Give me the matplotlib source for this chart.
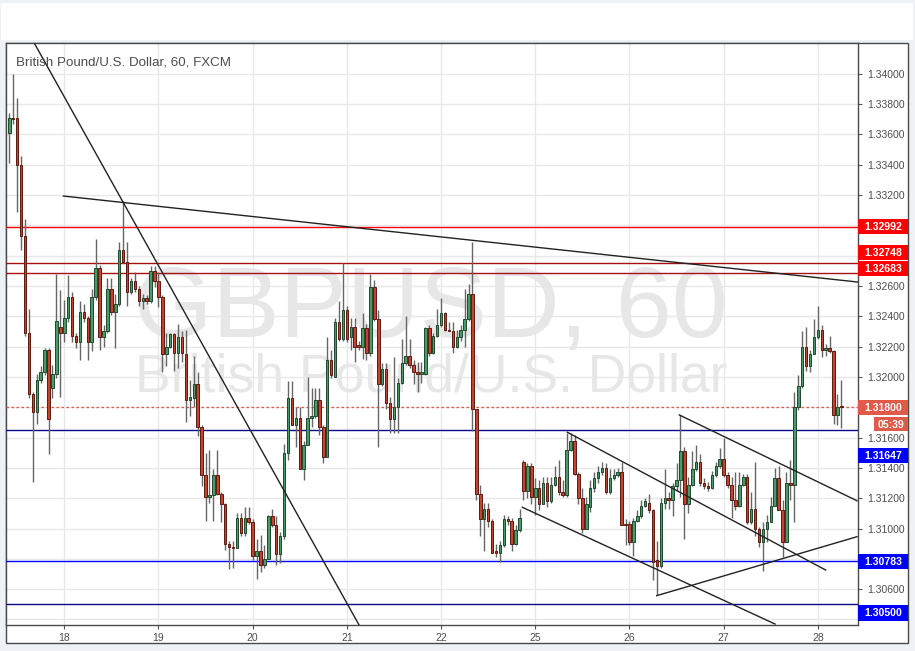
import matplotlib
matplotlib.use("Agg")
import matplotlib.pyplot as plt
from matplotlib.patches import Rectangle
import numpy as np

plt.rcParams['font.family'] = ['Liberation Sans', 'DejaVu Sans']

# GBP/USD hourly candles (FXCM), 17th 10:00 -> 28th 06:00
opens = [
  1.3361, 1.3371, 1.3371, 1.3340, 1.3293, 1.3229, 1.3189, 1.3177, 1.3198, 1.3203,
  1.3218, 1.3193, 1.3202, 1.3233, 1.3229, 1.3239, 1.3253, 1.3227, 1.3223, 1.3243,
  1.3239, 1.3223, 1.3253, 1.3272, 1.3226, 1.3230, 1.3258, 1.3243, 1.3248, 1.3284,
  1.3276, 1.3256, 1.3263, 1.3258, 1.3250, 1.3252, 1.3250, 1.3270, 1.3263, 1.3253,
  1.3215, 1.3220, 1.3228, 1.3216, 1.3226, 1.3215, 1.3185, 1.3186, 1.3195, 1.3167,
  1.3135, 1.3121, 1.3122, 1.3135, 1.3123, 1.3116, 1.3090, 1.3088, 1.3087, 1.3107,
  1.3097, 1.3107, 1.3104, 1.3082, 1.3085, 1.3076, 1.3080, 1.3108, 1.3102, 1.3083,
  1.3095, 1.3150, 1.3186, 1.3168, 1.3173, 1.3139, 1.3155, 1.3173, 1.3174, 1.3185,
  1.3167, 1.3147, 1.3211, 1.3200, 1.3236, 1.3225, 1.3244, 1.3226, 1.3233, 1.3221,
  1.3220, 1.3232, 1.3216, 1.3259, 1.3238, 1.3195, 1.3205, 1.3183, 1.3172, 1.3180,
  1.3196, 1.3209, 1.3214, 1.3208, 1.3203, 1.3202, 1.3202, 1.3232, 1.3216, 1.3227,
  1.3234, 1.3242, 1.3231, 1.3230, 1.3220, 1.3226, 1.3231, 1.3238, 1.3255, 1.3179,
  1.3123, 1.3106, 1.3113, 1.3105, 1.3085, 1.3084, 1.3089, 1.3106, 1.3105, 1.3090,
  1.3099, 1.3144, 1.3125, 1.3141, 1.3121, 1.3127, 1.3116, 1.3130, 1.3118, 1.3129,
  1.3134, 1.3124, 1.3122, 1.3152, 1.3158, 1.3136, 1.3120, 1.3100, 1.3114, 1.3127,
  1.3133, 1.3137, 1.3140, 1.3124, 1.3133, 1.3135, 1.3137, 1.3103, 1.3103, 1.3091,
  1.3105, 1.3108, 1.3115, 1.3117, 1.3112, 1.3079, 1.3075, 1.3117, 1.3120, 1.3119,
  1.3128, 1.3132, 1.3151, 1.3116, 1.3129, 1.3139, 1.3144, 1.3130, 1.3128, 1.3127,
  1.3135, 1.3141, 1.3146, 1.3135, 1.3129, 1.3119, 1.3115, 1.3129, 1.3134, 1.3104,
  1.3113, 1.3100, 1.3091, 1.3100, 1.3104, 1.3115, 1.3133, 1.3112, 1.3091, 1.3130,
  1.3129, 1.3180, 1.3194, 1.3220, 1.3207, 1.3215, 1.3226, 1.3231, 1.3218, 1.3219,
  1.3217, 1.3175, 1.3181]

highs = [
  1.3374, 1.3400, 1.3384, 1.3346, 1.3304, 1.3245, 1.3190, 1.3202, 1.3207, 1.3219,
  1.3219, 1.3208, 1.3268, 1.3257, 1.3251, 1.3267, 1.3256, 1.3229, 1.3250, 1.3248,
  1.3240, 1.3258, 1.3291, 1.3274, 1.3234, 1.3265, 1.3265, 1.3255, 1.3289, 1.3316,
  1.3289, 1.3265, 1.3269, 1.3260, 1.3255, 1.3254, 1.3273, 1.3273, 1.3269, 1.3254,
  1.3229, 1.3229, 1.3229, 1.3235, 1.3230, 1.3231, 1.3198, 1.3214, 1.3203, 1.3168,
  1.3150, 1.3152, 1.3139, 1.3152, 1.3124, 1.3117, 1.3092, 1.3092, 1.3110, 1.3110,
  1.3114, 1.3114, 1.3106, 1.3093, 1.3096, 1.3089, 1.3109, 1.3113, 1.3108, 1.3098,
  1.3156, 1.3197, 1.3197, 1.3180, 1.3180, 1.3158, 1.3200, 1.3193, 1.3193, 1.3193,
  1.3168, 1.3226, 1.3218, 1.3239, 1.3250, 1.3275, 1.3247, 1.3239, 1.3239, 1.3224,
  1.3242, 1.3235, 1.3268, 1.3264, 1.3244, 1.3209, 1.3209, 1.3187, 1.3213, 1.3199,
  1.3225, 1.3240, 1.3225, 1.3211, 1.3210, 1.3210, 1.3233, 1.3234, 1.3229, 1.3245,
  1.3252, 1.3243, 1.3236, 1.3236, 1.3231, 1.3234, 1.3258, 1.3261, 1.3289, 1.3179,
  1.3129, 1.3117, 1.3117, 1.3106, 1.3090, 1.3092, 1.3109, 1.3108, 1.3107, 1.3102,
  1.3113, 1.3145, 1.3143, 1.3143, 1.3133, 1.3132, 1.3134, 1.3134, 1.3134, 1.3141,
  1.3145, 1.3132, 1.3163, 1.3163, 1.3162, 1.3137, 1.3127, 1.3121, 1.3132, 1.3137,
  1.3141, 1.3144, 1.3143, 1.3139, 1.3139, 1.3140, 1.3144, 1.3106, 1.3105, 1.3107,
  1.3112, 1.3119, 1.3120, 1.3123, 1.3113, 1.3092, 1.3120, 1.3139, 1.3124, 1.3130,
  1.3143, 1.3175, 1.3154, 1.3134, 1.3151, 1.3155, 1.3149, 1.3133, 1.3131, 1.3138,
  1.3144, 1.3153, 1.3160, 1.3137, 1.3134, 1.3137, 1.3137, 1.3136, 1.3136, 1.3124,
  1.3144, 1.3101, 1.3104, 1.3109, 1.3121, 1.3140, 1.3141, 1.3119, 1.3137, 1.3145,
  1.3190, 1.3201, 1.3230, 1.3233, 1.3218, 1.3238, 1.3247, 1.3234, 1.3222, 1.3227,
  1.3218, 1.3189, 1.3198]

lows = [
  1.3341, 1.3367, 1.3309, 1.3284, 1.3227, 1.3186, 1.3131, 1.3169, 1.3196, 1.3201,
  1.3149, 1.3186, 1.3199, 1.3187, 1.3223, 1.3236, 1.3223, 1.3219, 1.3211, 1.3236,
  1.3211, 1.3217, 1.3251, 1.3218, 1.3220, 1.3229, 1.3241, 1.3219, 1.3247, 1.3275,
  1.3247, 1.3255, 1.3256, 1.3247, 1.3245, 1.3248, 1.3249, 1.3259, 1.3246, 1.3203,
  1.3207, 1.3219, 1.3204, 1.3206, 1.3210, 1.3170, 1.3174, 1.3180, 1.3161, 1.3128,
  1.3105, 1.3117, 1.3105, 1.3122, 1.3104, 1.3086, 1.3073, 1.3074, 1.3087, 1.3095,
  1.3095, 1.3103, 1.3079, 1.3067, 1.3071, 1.3074, 1.3080, 1.3101, 1.3076, 1.3077,
  1.3093, 1.3145, 1.3168, 1.3154, 1.3139, 1.3132, 1.3155, 1.3167, 1.3173, 1.3162,
  1.3143, 1.3147, 1.3199, 1.3200, 1.3224, 1.3224, 1.3223, 1.3218, 1.3210, 1.3218,
  1.3212, 1.3211, 1.3214, 1.3237, 1.3154, 1.3194, 1.3179, 1.3163, 1.3163, 1.3163,
  1.3195, 1.3208, 1.3206, 1.3195, 1.3190, 1.3196, 1.3201, 1.3214, 1.3215, 1.3226,
  1.3233, 1.3230, 1.3230, 1.3216, 1.3219, 1.3224, 1.3220, 1.3237, 1.3164, 1.3119,
  1.3095, 1.3085, 1.3101, 1.3084, 1.3081, 1.3078, 1.3088, 1.3102, 1.3085, 1.3089,
  1.3098, 1.3119, 1.3120, 1.3116, 1.3109, 1.3112, 1.3116, 1.3114, 1.3117, 1.3128,
  1.3122, 1.3121, 1.3121, 1.3151, 1.3135, 1.3116, 1.3097, 1.3100, 1.3111, 1.3124,
  1.3130, 1.3135, 1.3123, 1.3123, 1.3132, 1.3134, 1.3102, 1.3089, 1.3089, 1.3082,
  1.3104, 1.3107, 1.3114, 1.3110, 1.3066, 1.3056, 1.3074, 1.3113, 1.3113, 1.3108,
  1.3125, 1.3121, 1.3093, 1.3110, 1.3128, 1.3138, 1.3128, 1.3126, 1.3125, 1.3126,
  1.3134, 1.3140, 1.3134, 1.3127, 1.3107, 1.3112, 1.3114, 1.3128, 1.3103, 1.3103,
  1.3095, 1.3088, 1.3072, 1.3091, 1.3104, 1.3115, 1.3112, 1.3081, 1.3091, 1.3119,
  1.3104, 1.3178, 1.3193, 1.3204, 1.3203, 1.3215, 1.3225, 1.3213, 1.3214, 1.3216,
  1.3169, 1.3168, 1.3166]

closes = [
  1.3371, 1.3370, 1.3340, 1.3293, 1.3229, 1.3189, 1.3177, 1.3198, 1.3203, 1.3218,
  1.3172, 1.3202, 1.3237, 1.3229, 1.3239, 1.3253, 1.3227, 1.3223, 1.3243, 1.3239,
  1.3223, 1.3253, 1.3272, 1.3226, 1.3230, 1.3258, 1.3243, 1.3248, 1.3284, 1.3276,
  1.3256, 1.3263, 1.3258, 1.3250, 1.3252, 1.3250, 1.3270, 1.3263, 1.3253, 1.3215,
  1.3220, 1.3228, 1.3216, 1.3226, 1.3216, 1.3185, 1.3187, 1.3195, 1.3167, 1.3135,
  1.3121, 1.3122, 1.3135, 1.3123, 1.3116, 1.3090, 1.3088, 1.3087, 1.3107, 1.3097,
  1.3107, 1.3104, 1.3082, 1.3085, 1.3076, 1.3080, 1.3108, 1.3102, 1.3083, 1.3095,
  1.3150, 1.3186, 1.3168, 1.3173, 1.3139, 1.3155, 1.3173, 1.3174, 1.3185, 1.3167,
  1.3147, 1.3211, 1.3201, 1.3236, 1.3225, 1.3244, 1.3225, 1.3233, 1.3220, 1.3220,
  1.3232, 1.3216, 1.3259, 1.3238, 1.3195, 1.3205, 1.3183, 1.3172, 1.3180, 1.3196,
  1.3209, 1.3214, 1.3208, 1.3203, 1.3202, 1.3203, 1.3232, 1.3216, 1.3227, 1.3234,
  1.3242, 1.3231, 1.3230, 1.3220, 1.3226, 1.3231, 1.3238, 1.3255, 1.3179, 1.3123,
  1.3106, 1.3113, 1.3105, 1.3084, 1.3084, 1.3089, 1.3106, 1.3105, 1.3090, 1.3099,
  1.3107, 1.3125, 1.3141, 1.3121, 1.3127, 1.3116, 1.3130, 1.3118, 1.3129, 1.3134,
  1.3124, 1.3122, 1.3152, 1.3158, 1.3136, 1.3120, 1.3100, 1.3116, 1.3127, 1.3133,
  1.3137, 1.3140, 1.3124, 1.3133, 1.3135, 1.3137, 1.3102, 1.3102, 1.3091, 1.3105,
  1.3108, 1.3115, 1.3118, 1.3112, 1.3078, 1.3075, 1.3117, 1.3120, 1.3119, 1.3128,
  1.3132, 1.3151, 1.3116, 1.3129, 1.3139, 1.3144, 1.3130, 1.3128, 1.3127, 1.3135,
  1.3141, 1.3146, 1.3135, 1.3129, 1.3119, 1.3115, 1.3129, 1.3134, 1.3104, 1.3113,
  1.3100, 1.3091, 1.3100, 1.3104, 1.3115, 1.3133, 1.3112, 1.3091, 1.3130, 1.3129,
  1.3180, 1.3194, 1.3220, 1.3207, 1.3215, 1.3226, 1.3231, 1.3218, 1.3219, 1.3217,
  1.3175, 1.3180, 1.3180]

# day separators (candle index of 00:00) and their labels
day_starts = [14, 38, 62, 86, 110, 134, 158, 182, 206]
day_labels = ["18", "19", "20", "21", "22", "25", "26", "27", "28"]

# horizontal levels drawn on the chart
levels = [1.32992, 1.32748, 1.32683, 1.31647, 1.30783, 1.30500]
level_colors = ["#ff0000", "#a81010", "#a81010", "#0a0a8c", "#0000ff", "#0a0a8c"]
last_price = 1.31800

# trend lines: (candle0, price0, candle1, price1)
trend_lines = [
  (6.4, 1.34200, 89.1, 1.30364),
  (13.76, 1.33193, 216.05, 1.32626),
  (142.16, 1.31635, 208.0, 1.30726),
  (130.7, 1.31140, 195.08, 1.30370),
  (170.7, 1.31749, 215.97, 1.31183),
  (164.94, 1.30557, 215.97, 1.30946),
]

# price-scale labels hidden behind the level tags
hidden_ticks = ["1.33000", "1.32800", "1.31800", "1.30800", "1.30400"]

YTOP, YBOT = 1.342004, 1.303635
PX_TOP, PX_BOT, PX_L, PX_R = 43.3, 625.0, 6.4, 858.3
W, H = 915, 651

fig = plt.figure(figsize=(W / 100, H / 100), dpi=100, facecolor="#eef1f5")

# frame / background panels in pixel coordinates
bg = fig.add_axes([0, 0, 1, 1], zorder=-1)
bg.set_xlim(0, W)
bg.set_ylim(H, 0)
bg.axis("off")
bg.add_patch(Rectangle((1, 3), 912, 37, fc="white", ec="none"))
bg.add_patch(Rectangle((PX_L, PX_TOP), 908.3 - PX_L, 643.3 - PX_TOP,
                       fc="white", ec="#4a4a4a", lw=1))

ax = fig.add_axes([PX_L / W, 1 - PX_BOT / H, (PX_R - PX_L) / W, (PX_BOT - PX_TOP) / H])
ax.set_facecolor("white")
ax.set_xlim(-0.74, 216.3)
ax.set_ylim(YBOT, YTOP)

n = len(opens)
x = np.arange(n)
o = np.array(opens)
c = np.array(closes)
up = c >= o

ax.vlines(x, lows, highs, color="#666666", lw=1, zorder=3)
body_lo = np.minimum(o, c)
body_h = np.maximum(np.abs(c - o), 0.00003)
ax.bar(x[up], body_h[up], bottom=body_lo[up], width=0.64,
       color="#4c9a6a", edgecolor="#1d4a2d", lw=0.7, zorder=4)
ax.bar(x[~up], body_h[~up], bottom=body_lo[~up], width=0.64,
       color="#c4432f", edgecolor="#5e1a10", lw=0.7, zorder=4)

for lv, col in zip(levels, level_colors):
  ax.axhline(lv, color=col, lw=1, zorder=2.6)
ax.axhline(last_price, color="#df5a48", lw=0.9, ls=(0, (2, 2)), zorder=2.6)

for (i0, p0, i1, p1) in trend_lines:
  ax.plot([i0, i1], [p0, p1], color="#222222", lw=1, zorder=5)

# grid / ticks
yt = np.arange(1.304, 1.34001, 0.002)
ylabels = ["%.5f" % v for v in yt]
ax.set_yticks(yt)
ax.set_yticklabels(["" if s in hidden_ticks else s for s in ylabels])
ax.set_xticks(day_starts)
ax.set_xticklabels(day_labels)
ax.yaxis.tick_right()
ax.set_axisbelow(True)
ax.grid(color="#e8e8e8", lw=1)
ax.tick_params(axis="y", length=3, pad=3.5, labelsize=7.5, color="#555555", labelcolor="#4d4d4d")
ax.tick_params(axis="x", length=3, pad=3, labelsize=7.5, color="#555555", labelcolor="#4d4d4d")
for s in ax.spines.values():
  s.set_color("#4a4a4a")
  s.set_linewidth(1)

# watermark
ax.text(431, 337, "GBPUSD, 60", transform=bg.transData, fontsize=72.5,
        color="#e7e7e7", ha="center", va="baseline", zorder=1)
ax.text(431, 392, "British Pound/U.S. Dollar", transform=bg.transData, fontsize=38.5,
        color="#e7e7e7", ha="center", va="baseline", zorder=1)

# overlay: title and price-scale labels
ov = fig.add_axes([0, 0, 1, 1], zorder=5)
ov.set_xlim(0, W)
ov.set_ylim(H, 0)
ov.axis("off")
ov.patch.set_alpha(0)

ov.text(15.7, 65.7, "British Pound/U.S. Dollar, 60, FXCM", fontsize=9.6,
        color="#4d4d4d", va="baseline")

def py(p):
  return PX_TOP + (YTOP - p) / (YTOP - YBOT) * (PX_BOT - PX_TOP)

# (price, colour, vertical shift of the box in px)
tags = [
  (1.32992, "#ff0000", 0),
  (1.32748, "#ff0000", -11),
  (1.32683, "#ff0000", -5),
  (last_price, "#df5a48", 0),
  (1.31647, "#0000ff", 25),
  (1.30783, "#0000ff", 0),
  (1.30500, "#0000ff", 8.5),
]
for p, col, dy in tags:
  yc = py(p) + dy
  ov.add_patch(Rectangle((PX_R, yc - 7.7), 50, 15.4, fc=col, ec="none"))
  ov.text(PX_R + 25, yc + 0.5, "%.5f" % p, color="white", fontsize=7.6,
          fontweight="bold", ha="center", va="center")

yc = py(last_price) + 17
ov.add_patch(Rectangle((874.3, yc - 7.2), 34, 14.4, fc="#df5a48", ec="none"))
ov.text(891.3, yc + 0.5, "05:39", color="white", fontsize=7.6,
        fontweight="bold", ha="center", va="center")

fig.savefig("out.png", dpi=100, facecolor=fig.get_facecolor())
